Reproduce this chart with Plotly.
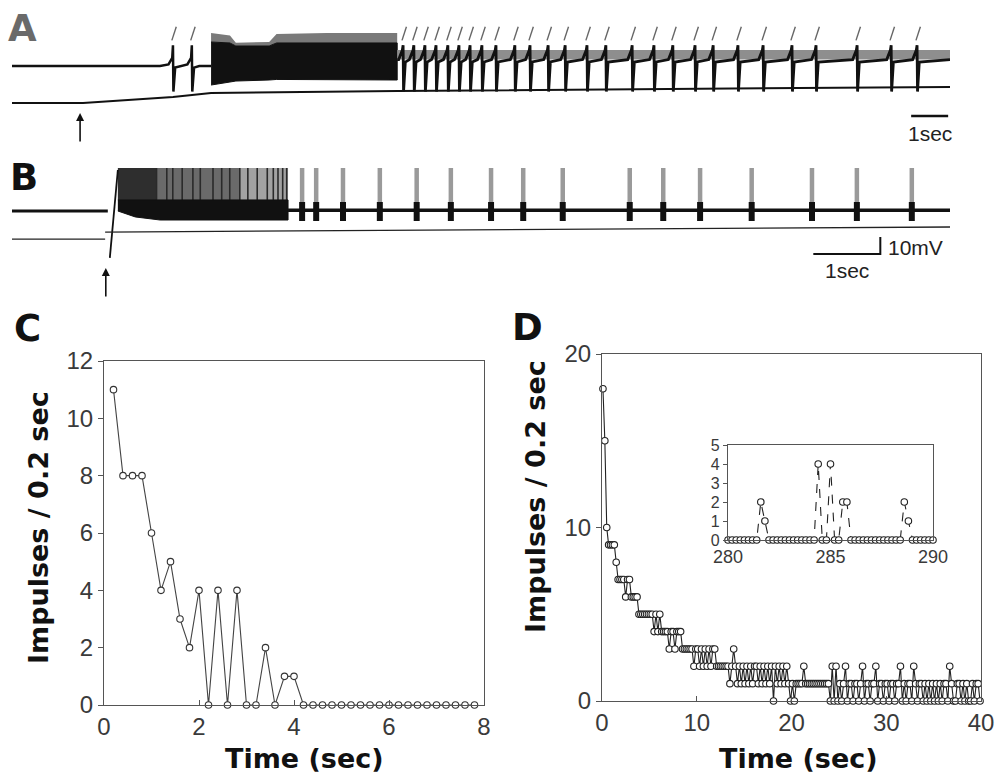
import plotly.graph_objects as go

W, H = 995, 773

# ============================ DATA ============================
# ---- Panel A : intracellular record (time s, potential mV rel. to rest) ----
A_DURATION_S = 25.35
A_STIM_S = 1.84
A_EARLY_SPIKES_S = [4.35, 4.86]
A_BURST_T_S = [5.38, 5.89, 6.05, 6.95, 7.15, 8.5, 10.41]
A_BURST_FRINGE_MV = [20.6, 19.0, 14.5, 15.0, 20.0, 20.6, 20.6]
A_BURST_TOP_MV = [15.0, 14.4, 12.5, 12.5, 14.4, 14.4, 14.4]
A_BURST_BOTTOM_MV = [-11.9, -10.0, -9.4, -8.75, -8.4, -8.4, -8.75]
A_LATE_SPIKES_S = [10.57, 10.86, 11.16, 11.46, 11.78, 12.08, 12.38, 12.70, 13.08,
                   13.59, 14.00, 14.49, 14.95, 15.54, 16.05, 16.76, 17.35, 17.86,
                   18.46, 18.95, 19.62, 20.30, 21.08, 21.73, 22.84, 23.76, 24.46]
A_REST_MV = 0.0
A_PLATEAU_MV = 4.0
A_BAND_TOP_MV = 10.0
A_SPIKE_PEAK_MV = 13.0
A_SPIKE_TROUGH_MV = -16.0
A_TIP_MV = [16.0, 24.5]
A_LOWER_T_S = [0.0, 1.92, 4.35, 5.38, 10.41, 25.35]
A_LOWER_MV = [-23.1, -23.1, -19.4, -16.9, -15.6, -13.1]
A_SCALEBAR_S = 1.0

# ---- Panel B ----
B_DURATION_S = 14.0
B_STIM_S = 1.40
B_STIM_T_S = [1.46, 1.58]
B_STIM_MV = [-27.6, 24.1]
B_PRE_END_S = 1.43
B_BURST_T_S = [1.58, 1.84, 2.21, 4.12]
B_BURST_BOTTOM_MV = [0.0, -3.5, -5.3, -5.3]
B_BURST_BAND_TOP_MV = 6.5
B_BURST_PEAK_MV = 25.3
B_BURST_SHADE_EDGES_S = [1.58, 2.17, 3.40, 4.12]
B_BURST_STREAKS_S = [2.16, 2.31, 2.40, 2.54, 2.70, 2.81, 3.00, 3.13, 3.25,
                     3.40, 3.52, 3.66, 3.81, 3.90, 3.97, 4.04, 4.10]
B_SPIKES_S = [4.33, 4.54, 4.94, 5.49, 6.04, 6.55, 7.15, 7.63, 8.22, 9.22, 9.72,
              10.27, 11.04, 11.94, 12.61, 13.43]
B_BASELINE_MV = 0.5
B_SPIKE_PEAK_MV = 25.3
B_SPIKE_BASE_MV = [-5.9, 5.3]
B_LOWER_PRE_T_S = [0.0, 1.39]
B_LOWER_PRE_MV = [-16.5, -16.5]
B_LOWER_POST_T_S = [1.39, 14.0]
B_LOWER_POST_MV = [-12.4, -9.4]
B_SCALEBAR_S = 1.0
B_SCALEBAR_MV = 10.0

# ---- Panel C : impulses per 0.2 s bin ----
C_TIME_S = [0.2, 0.4, 0.6, 0.8, 1.0, 1.2, 1.4, 1.6, 1.8, 2.0,
            2.2, 2.4, 2.6, 2.8, 3.0, 3.2, 3.4, 3.6, 3.8, 4.0,
            4.2, 4.4, 4.6, 4.8, 5.0, 5.2, 5.4, 5.6, 5.8, 6.0,
            6.2, 6.4, 6.6, 6.8, 7.0, 7.2, 7.4, 7.6, 7.8]
C_IMPULSES = [11, 8, 8, 8, 6, 4, 5, 3, 2, 4,
              0, 4, 0, 4, 0, 0, 2, 0, 1, 1,
              0, 0, 0, 0, 0, 0, 0, 0, 0, 0,
              0, 0, 0, 0, 0, 0, 0, 0, 0]
C_XTICKS = [0, 2, 4, 6, 8]
C_YTICKS = [0, 2, 4, 6, 8, 10, 12]

# ---- Panel D : impulses per 0.2 s bin, first 40 s ----
D_TIME_S = [0.1, 0.3, 0.5, 0.7, 0.9, 1.1, 1.3, 1.5, 1.7, 1.9,
            2.1, 2.3, 2.5, 2.7, 2.9, 3.1, 3.3, 3.5, 3.7, 3.9,
            4.1, 4.3, 4.5, 4.7, 4.9, 5.1, 5.3, 5.5, 5.7, 5.9,
            6.1, 6.3, 6.5, 6.7, 6.9, 7.1, 7.3, 7.5, 7.7, 7.9,
            8.1, 8.3, 8.5, 8.7, 8.9, 9.1, 9.3, 9.5, 9.7, 9.9,
            10.1, 10.3, 10.5, 10.7, 10.9, 11.1, 11.3, 11.5, 11.7, 11.9,
            12.1, 12.3, 12.5, 12.7, 12.9, 13.1, 13.3, 13.5, 13.7, 13.9,
            14.1, 14.3, 14.5, 14.7, 14.9, 15.1, 15.3, 15.5, 15.7, 15.9,
            16.1, 16.3, 16.5, 16.7, 16.9, 17.1, 17.3, 17.5, 17.7, 17.9,
            18.1, 18.3, 18.5, 18.7, 18.9, 19.1, 19.3, 19.5, 19.7, 19.9,
            20.1, 20.3, 20.5, 20.7, 20.9, 21.1, 21.3, 21.5, 21.7, 21.9,
            22.1, 22.3, 22.5, 22.7, 22.9, 23.1, 23.3, 23.5, 23.7, 23.9,
            24.1, 24.3, 24.5, 24.7, 24.9, 25.1, 25.3, 25.5, 25.7, 25.9,
            26.1, 26.3, 26.5, 26.7, 26.9, 27.1, 27.3, 27.5, 27.7, 27.9,
            28.1, 28.3, 28.5, 28.7, 28.9, 29.1, 29.3, 29.5, 29.7, 29.9,
            30.1, 30.3, 30.5, 30.7, 30.9, 31.1, 31.3, 31.5, 31.7, 31.9,
            32.1, 32.3, 32.5, 32.7, 32.9, 33.1, 33.3, 33.5, 33.7, 33.9,
            34.1, 34.3, 34.5, 34.7, 34.9, 35.1, 35.3, 35.5, 35.7, 35.9,
            36.1, 36.3, 36.5, 36.7, 36.9, 37.1, 37.3, 37.5, 37.7, 37.9,
            38.1, 38.3, 38.5, 38.7, 38.9, 39.1, 39.3, 39.5, 39.7, 39.9]
D_IMPULSES = [18, 15, 10, 9, 9, 9, 9, 8, 7, 7,
              7, 7, 6, 7, 7, 6, 6, 6, 6, 5,
              5, 5, 5, 5, 5, 5, 5, 4, 5, 4,
              5, 4, 4, 4, 4, 3, 4, 4, 3, 4,
              4, 4, 3, 3, 3, 3, 3, 3, 2, 3,
              3, 2, 3, 2, 3, 2, 3, 2, 3, 3,
              2, 2, 2, 2, 2, 2, 2, 1, 2, 3,
              2, 1, 2, 1, 2, 1, 2, 1, 2, 1,
              2, 2, 1, 2, 1, 2, 1, 2, 1, 2,
              0, 2, 1, 2, 1, 2, 1, 2, 1, 0,
              1, 0, 1, 1, 1, 1, 2, 1, 1, 1,
              1, 1, 1, 1, 1, 1, 1, 1, 1, 1,
              0, 2, 0, 2, 0, 1, 0, 1, 2, 0,
              1, 1, 0, 1, 1, 0, 1, 2, 0, 1,
              1, 0, 1, 1, 2, 0, 1, 1, 0, 1,
              1, 0, 1, 1, 0, 1, 1, 2, 0, 1,
              0, 1, 1, 0, 2, 1, 0, 1, 1, 0,
              1, 0, 1, 0, 1, 0, 1, 0, 1, 0,
              1, 1, 0, 2, 1, 0, 0, 1, 1, 0,
              1, 0, 1, 0, 0, 1, 0, 1, 1, 0]
D_XTICKS = [0, 10, 20, 30, 40]
D_YTICKS = [0, 10, 20]

# ---- Inset of D : 280-290 s ----
INSET_TIME_S = [280.0, 280.2, 280.4, 280.6, 280.8, 281.0, 281.2, 281.4, 281.6, 281.8,
                282.0, 282.2, 282.4, 282.6, 282.8, 283.0, 283.2, 283.4, 283.6, 283.8,
                284.0, 284.2, 284.4, 284.6, 284.8, 285.0, 285.2, 285.4, 285.6, 285.8,
                286.0, 286.2, 286.4, 286.6, 286.8, 287.0, 287.2, 287.4, 287.6, 287.8,
                288.0, 288.2, 288.4, 288.6, 288.8, 289.0, 289.2, 289.4, 289.6, 289.8,
                290.0]
INSET_IMPULSES = [0, 0, 0, 0, 0, 0, 0, 0, 2, 1,
                  0, 0, 0, 0, 0, 0, 0, 0, 0, 0,
                  0, 0, 4, 0, 0, 4, 0, 0, 2, 2,
                  0, 0, 0, 0, 0, 0, 0, 0, 0, 0,
                  0, 0, 0, 2, 1, 0, 0, 0, 0, 0,
                  0]
INSET_XTICKS = [280, 285, 290]
INSET_YTICKS = [0, 1, 2, 3, 4, 5]

# ============================ LAYOUT GEOMETRY (pixels) ============================
def dx(p0, p1):
    return [p0 / W, p1 / W]

def dy(top, bottom):
    return [1 - bottom / H, 1 - top / H]

TICKFONT = dict(family="Liberation Sans, Arial, sans-serif", size=24, color="#3a3a3a")
TITLEFONT = dict(family="DejaVu Sans, sans-serif", size=27, color="#111111", weight="bold")
LETTERFONT = dict(family="DejaVu Sans, sans-serif", size=37, color="#111111", weight="bold")
SMALLFONT = dict(family="Liberation Sans, Arial, sans-serif", size=21, color="#222222")

fig = go.Figure()


def add(x, y, ax, **kw):
    fig.add_trace(go.Scatter(x=x, y=y, xaxis="x" + ax, yaxis="y" + ax,
                             showlegend=False, hoverinfo="skip", **kw))


def poly(xs_top, ys_top, xs_bot, ys_bot):
    return list(xs_top) + list(reversed(xs_bot)), list(ys_top) + list(reversed(ys_bot))


# ----------------------------- Panel A -----------------------------
px_, py_ = poly(A_BURST_T_S, A_BURST_FRINGE_MV, A_BURST_T_S, A_BURST_TOP_MV)
add(px_, py_, "", mode="lines", fill="toself", fillcolor="#7a7a7a", line=dict(width=0))
px_, py_ = poly(A_BURST_T_S, A_BURST_TOP_MV, A_BURST_T_S, A_BURST_BOTTOM_MV)
add(px_, py_, "", mode="lines", fill="toself", fillcolor="#111111", line=dict(color="#111111", width=1))

t0, t1 = A_BURST_T_S[-1], A_DURATION_S
add([t0, t1, t1, t0], [A_PLATEAU_MV, A_PLATEAU_MV, A_BAND_TOP_MV, A_BAND_TOP_MV], "",
    mode="lines", fill="toself", fillcolor="#8e8e8e", line=dict(width=0))

ux = [0.0, A_EARLY_SPIKES_S[0] - 0.35]
uy = [A_REST_MV, A_REST_MV]
for t in A_EARLY_SPIKES_S:
    ux += [t - 0.12, t - 0.02, t, t + 0.012, t + 0.06, t + 0.2]
    uy += [A_REST_MV + 1, A_REST_MV + 5, A_SPIKE_PEAK_MV, A_SPIKE_TROUGH_MV, A_REST_MV - 1, A_REST_MV]
ux += [A_BURST_T_S[0]]
uy += [A_REST_MV]
add(ux, uy, "", mode="lines", line=dict(color="#111111", width=2.5))

lx = [A_BURST_T_S[-1]]
ly = [A_PLATEAU_MV]
for t in A_LATE_SPIKES_S:
    lx += [t - 0.12, t - 0.02, t, t + 0.012, t + 0.06]
    ly += [A_PLATEAU_MV, A_PLATEAU_MV + 6, A_SPIKE_PEAK_MV, A_SPIKE_TROUGH_MV, A_PLATEAU_MV - 1.5]
lx += [A_DURATION_S]
ly += [A_PLATEAU_MV]
add(lx, ly, "", mode="lines", line=dict(color="#111111", width=2.8))

tx, ty = [], []
for t in A_EARLY_SPIKES_S + A_LATE_SPIKES_S:
    tx += [t - 0.03, t + 0.09, None]
    ty += [A_TIP_MV[0], A_TIP_MV[1], None]
add(tx, ty, "", mode="lines", line=dict(color="#666666", width=1.4))

add(A_LOWER_T_S, A_LOWER_MV, "", mode="lines", line=dict(color="#111111", width=2))

A_BAR_T0, A_BAR_V = 24.3, -31.25
add([A_BAR_T0, A_BAR_T0 + A_SCALEBAR_S], [A_BAR_V, A_BAR_V], "", mode="lines",
    line=dict(color="#111111", width=2.5))

# ----------------------------- Panel B -----------------------------
shades = ["#2e2e2e", "#6a6a6a", "#a2a2a2"]
for i, c in enumerate(shades):
    s0, s1 = B_BURST_SHADE_EDGES_S[i], B_BURST_SHADE_EDGES_S[i + 1]
    add([s0, s1, s1, s0], [B_BURST_BAND_TOP_MV, B_BURST_BAND_TOP_MV, B_BURST_PEAK_MV, B_BURST_PEAK_MV],
        "2", mode="lines", fill="toself", fillcolor=c, line=dict(width=0))
kx, ky = [], []
for t in B_BURST_STREAKS_S:
    kx += [t, t, None]
    ky += [B_BURST_BAND_TOP_MV, B_BURST_PEAK_MV, None]
add(kx, ky, "2", mode="lines", line=dict(color="#2a2a2a", width=1.6))
px_, py_ = poly(B_BURST_T_S, [B_BURST_BAND_TOP_MV] * len(B_BURST_T_S), B_BURST_T_S, B_BURST_BOTTOM_MV)
add(px_, py_, "2", mode="lines", fill="toself", fillcolor="#111111", line=dict(color="#111111", width=1))

add([0.0, B_PRE_END_S], [0.0, 0.0], "2", mode="lines", line=dict(color="#111111", width=3))
add(B_STIM_T_S, B_STIM_MV, "2", mode="lines", line=dict(color="#111111", width=1.8))
add([B_BURST_T_S[-1], B_DURATION_S], [B_BASELINE_MV, B_BASELINE_MV], "2", mode="lines",
    line=dict(color="#111111", width=3.5))

sx, sy, bx, by = [], [], [], []
for t in B_SPIKES_S:
    sx += [t, t, None]
    sy += [B_SPIKE_BASE_MV[1], B_SPIKE_PEAK_MV, None]
    bx += [t, t, None]
    by += [B_SPIKE_BASE_MV[0], B_SPIKE_BASE_MV[1], None]
add(sx, sy, "2", mode="lines", line=dict(color="#9a9a9a", width=4.5))
add(bx, by, "2", mode="lines", line=dict(color="#111111", width=6))

add(B_LOWER_PRE_T_S, B_LOWER_PRE_MV, "2", mode="lines", line=dict(color="#222222", width=1.3))
add(B_LOWER_POST_T_S, B_LOWER_POST_MV, "2", mode="lines", line=dict(color="#222222", width=1.3))

B_BAR_T0, B_BAR_V = 11.96, -25.3
add([B_BAR_T0, B_BAR_T0 + B_SCALEBAR_S, B_BAR_T0 + B_SCALEBAR_S],
    [B_BAR_V, B_BAR_V, B_BAR_V + B_SCALEBAR_MV], "2", mode="lines",
    line=dict(color="#111111", width=2))

# ----------------------------- Panel C -----------------------------
add(C_TIME_S, C_IMPULSES, "3", mode="lines+markers", cliponaxis=False,
    line=dict(color="#444444", width=1.1),
    marker=dict(symbol="circle", size=6.5, color="white", line=dict(color="#333333", width=1.1)))

# ----------------------------- Panel D -----------------------------
add(D_TIME_S, D_IMPULSES, "4", mode="lines+markers", cliponaxis=False,
    line=dict(color="#222222", width=1.1),
    marker=dict(symbol="circle", size=6.5, color="white", line=dict(color="#222222", width=1.1)))

# ----------------------------- Inset -----------------------------
add(INSET_TIME_S, INSET_IMPULSES, "5", mode="lines+markers", cliponaxis=False,
    line=dict(color="#222222", width=1.1, dash="dash"),
    marker=dict(symbol="circle", size=6.5, color="white", line=dict(color="#222222", width=1.1)))

# ============================ AXES ============================
hidden = dict(visible=False, showgrid=False, zeroline=False, fixedrange=True, automargin=False)
frame = dict(showline=True, mirror=True, linecolor="#555555", linewidth=1.1, automargin=False,
             showgrid=False, zeroline=False, tickcolor="#555555", tickfont=TICKFONT)
inset_x = {**frame, "tickfont": dict(TICKFONT, size=18)}
inset_y = {**frame, "tickfont": dict(TICKFONT, size=16)}

A_V_PER_PX = 1 / 1.6
B_V_PER_PX = 1 / 1.7
layout_axes = dict(
    xaxis=dict(domain=dx(12, 950), range=[0, A_DURATION_S], anchor="y", **hidden),
    yaxis=dict(domain=dy(0, 150), range=[-84 * A_V_PER_PX, 66 * A_V_PER_PX], anchor="x", **hidden),
    xaxis2=dict(domain=dx(12, 950), range=[0, B_DURATION_S], anchor="y2", **hidden),
    yaxis2=dict(domain=dy(140, 305), range=[-94 * B_V_PER_PX, 71 * B_V_PER_PX], anchor="x2", **hidden),
    xaxis3=dict(domain=dx(104, 484), range=[0, 8], anchor="y3", tickvals=C_XTICKS,
                ticks="inside", ticklen=5, **frame),
    yaxis3=dict(domain=dy(361, 705), range=[0, 12], anchor="x3", tickvals=C_YTICKS,
                ticks="outside", ticklen=5, **frame),
    xaxis4=dict(domain=dx(602, 981), range=[0, 40], anchor="y4", tickvals=D_XTICKS,
                ticks="inside", ticklen=5, **frame),
    yaxis4=dict(domain=dy(354, 701), range=[0, 20], anchor="x4", tickvals=D_YTICKS,
                ticks="outside", ticklen=5, **frame),
    xaxis5=dict(domain=dx(728, 933), range=[280, 290], anchor="y5", tickvals=INSET_XTICKS,
                ticks="", **inset_x),
    yaxis5=dict(domain=dy(445, 540), range=[0, 5], anchor="x5", tickvals=INSET_YTICKS,
                ticks="outside", ticklen=4, **inset_y),
)

# ============================ TEXT ============================
def paper_text(text, x, y, font, angle=0):
    return dict(text=text, x=x / W, y=1 - y / H, xref="paper", yref="paper",
                showarrow=False, font=font, textangle=angle, xanchor="center", yanchor="middle")

annotations = [
    paper_text("A", 22, 28, dict(LETTERFONT, color="#6a6a6a")),
    paper_text("B", 24, 178, LETTERFONT),
    paper_text("C", 27, 328, LETTERFONT),
    paper_text("D", 527, 327, LETTERFONT),
    paper_text("Time (sec)", 304, 758, TITLEFONT),
    paper_text("Time (sec)", 798, 758, TITLEFONT),
    paper_text("Impulses / 0.2 sec", 38, 528, TITLEFONT, -90),
    paper_text("Impulses / 0.2 sec", 535, 497, TITLEFONT, -90),
    dict(text="1sec", x=A_BAR_T0 + A_SCALEBAR_S / 2, y=A_BAR_V, xref="x", yref="y",
         showarrow=False, font=SMALLFONT, yshift=-17, xanchor="center", yanchor="middle"),
    dict(text="1sec", x=B_BAR_T0 + B_SCALEBAR_S / 2, y=B_BAR_V, xref="x2", yref="y2",
         showarrow=False, font=SMALLFONT, yshift=-16, xanchor="center", yanchor="middle"),
    dict(text="10mV", x=B_BAR_T0 + B_SCALEBAR_S, y=B_BAR_V + B_SCALEBAR_MV / 2, xref="x2", yref="y2",
         showarrow=False, font=SMALLFONT, xshift=6, yshift=-2, xanchor="left", yanchor="middle"),
    dict(text="", x=A_STIM_S, y=-29.4, xref="x", yref="y", showarrow=True,
         ax=0, ay=30, arrowhead=2, arrowsize=1, arrowwidth=1.6, arrowcolor="#111111"),
    dict(text="", x=B_STIM_S, y=-33.5, xref="x2", yref="y2", showarrow=True,
         ax=0, ay=30, arrowhead=2, arrowsize=1, arrowwidth=1.6, arrowcolor="#111111"),
]

fig.update_layout(
    template="none",
    width=W, height=H,
    autosize=False,
    margin=dict(l=0, r=0, t=0, b=0, pad=0, autoexpand=False),
    paper_bgcolor="white", plot_bgcolor="white",
    showlegend=False,
    annotations=annotations,
    **layout_axes,
)

fig.write_html("out.html", config={"displayModeBar": False})
